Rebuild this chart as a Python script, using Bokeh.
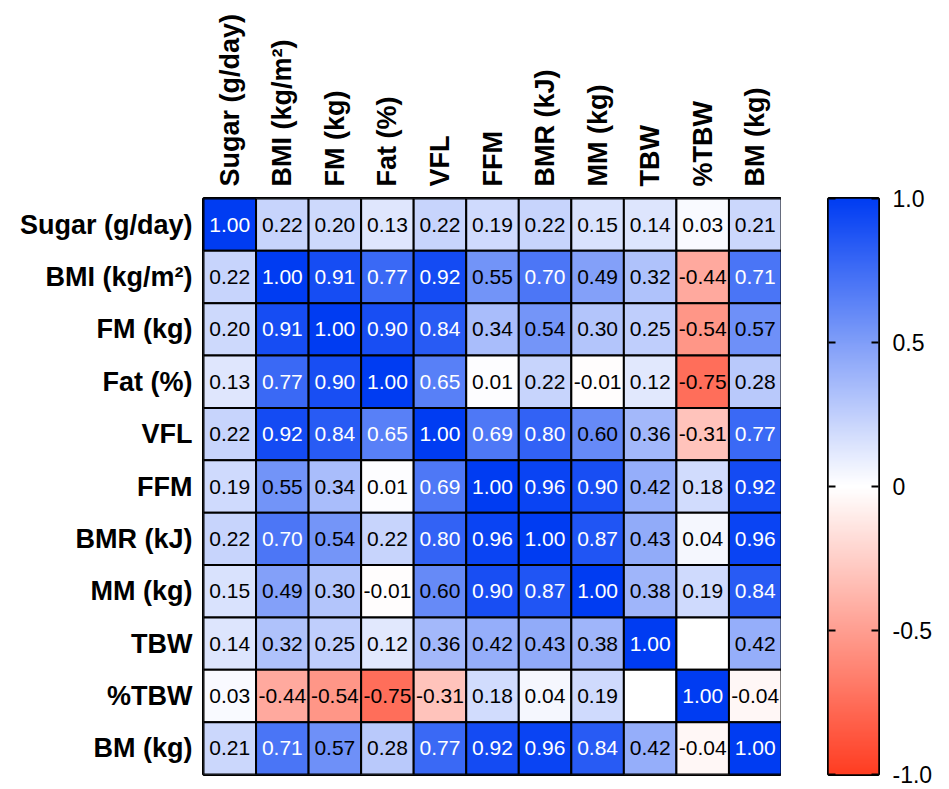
import numpy as np
from bokeh.plotting import figure
from bokeh.models import (ColumnDataSource, FactorRange, Range1d, LinearColorMapper,
                          FixedTicker, LinearAxis)
from bokeh.layouts import row
from bokeh.core.properties import value
from bokeh.embed import file_html
from bokeh.resources import INLINE

labels = ["Sugar (g/day)", "BMI (kg/m²)", "FM (kg)", "Fat (%)", "VFL", "FFM",
          "BMR (kJ)", "MM (kg)", "TBW", "%TBW", "BM (kg)"]

r_sugar = [1.00, 0.22, 0.20, 0.13, 0.22, 0.19, 0.22, 0.15, 0.14, 0.03, 0.21]
r_bmi   = [0.22, 1.00, 0.91, 0.77, 0.92, 0.55, 0.70, 0.49, 0.32, -0.44, 0.71]
r_fm    = [0.20, 0.91, 1.00, 0.90, 0.84, 0.34, 0.54, 0.30, 0.25, -0.54, 0.57]
r_fat   = [0.13, 0.77, 0.90, 1.00, 0.65, 0.01, 0.22, -0.01, 0.12, -0.75, 0.28]
r_vfl   = [0.22, 0.92, 0.84, 0.65, 1.00, 0.69, 0.80, 0.60, 0.36, -0.31, 0.77]
r_ffm   = [0.19, 0.55, 0.34, 0.01, 0.69, 1.00, 0.96, 0.90, 0.42, 0.18, 0.92]
r_bmr   = [0.22, 0.70, 0.54, 0.22, 0.80, 0.96, 1.00, 0.87, 0.43, 0.04, 0.96]
r_mm    = [0.15, 0.49, 0.30, -0.01, 0.60, 0.90, 0.87, 1.00, 0.38, 0.19, 0.84]
r_tbw   = [0.14, 0.32, 0.25, 0.12, 0.36, 0.42, 0.43, 0.38, 1.00, None, 0.42]
r_ptbw  = [0.03, -0.44, -0.54, -0.75, -0.31, 0.18, 0.04, 0.19, None, 1.00, -0.04]
r_bm    = [0.21, 0.71, 0.57, 0.28, 0.77, 0.92, 0.96, 0.84, 0.42, -0.04, 1.00]

matrix = [r_sugar, r_bmi, r_fm, r_fat, r_vfl, r_ffm, r_bmr, r_mm, r_tbw, r_ptbw, r_bm]

cbar_ticks = [-1.0, -0.5, 0.0, 0.5, 1.0]
cbar_tick_labels = {-1.0: "-1.0", -0.5: "-0.5", 0.0: "0", 0.5: "0.5", 1.0: "1.0"}

FONT = "Liberation Sans"

# palette red -> white -> blue
red = np.array([255, 61, 34])
white = np.array([255, 255, 255])
blue = np.array([0, 60, 242])
pal = []
n = 128
for i in range(n):
    t = i / (n - 1)
    c = red + (white - red) * t
    pal.append("#%02x%02x%02x" % tuple(int(round(v)) for v in c))
for i in range(n):
    t = i / (n - 1)
    c = white + (blue - white) * t
    pal.append("#%02x%02x%02x" % tuple(int(round(v)) for v in c))
mapper = LinearColorMapper(palette=pal, low=-1, high=1, nan_color="white")

xs, ys, vals, txt, tcol = [], [], [], [], []
for i, rlab in enumerate(labels):
    for j, clab in enumerate(labels):
        v = matrix[i][j]
        xs.append(clab)
        ys.append(rlab)
        vals.append(np.nan if v is None else v)
        txt.append("" if v is None else "%.2f" % v)
        tcol.append("white" if (v is not None and v > 0.6) else "black")

src = ColumnDataSource(dict(x=xs, y=ys, v=vals, t=txt, c=tcol))

TOP = 198
FH = 576
BOT = 14

p = figure(x_range=FactorRange(*labels), y_range=FactorRange(*reversed(labels)),
           x_axis_location="above", frame_width=578, frame_height=FH,
           min_border_left=203, min_border_top=TOP, min_border_right=0,
           min_border_bottom=BOT, toolbar_location=None, output_backend="svg",
           background_fill_color="white", border_fill_color="white")

p.rect(x="x", y="y", width=1, height=1, source=src,
       fill_color={"field": "v", "transform": mapper},
       line_color="black", line_width=2)
p.text(x="x", y="y", text="t", source=src, text_color="c",
       text_align="center", text_baseline="middle",
       text_font=value(FONT), text_font_size="21px")

p.grid.visible = False
p.outline_line_color = "black"
p.outline_line_width = 3
for ax in (p.xaxis, p.yaxis):
    ax.axis_line_color = None
    ax.major_tick_line_color = None
    ax.minor_tick_line_color = None
    ax.major_label_text_font = FONT
    ax.major_label_text_font_style = "bold"
    ax.major_label_text_font_size = "27px"
    ax.major_label_text_color = "black"
p.xaxis.major_label_orientation = "vertical"
p.xaxis.major_label_standoff = 6
p.yaxis.major_label_standoff = 5

# colorbar figure
cb = figure(x_range=Range1d(0, 1), y_range=Range1d(-1, 1),
            frame_width=50, frame_height=FH, min_border_left=47,
            min_border_right=60, min_border_top=TOP, min_border_bottom=BOT,
            toolbar_location=None, output_backend="svg",
            x_axis_location=None, y_axis_location="right",
            background_fill_color="white", border_fill_color="white")
grad = np.linspace(-1, 1, 256).reshape(256, 1)
cb.image(image=[grad], x=0, y=-1, dw=1, dh=2, color_mapper=mapper)
cb.grid.visible = False
cb.outline_line_color = "black"
cb.outline_line_width = 3
cb.yaxis.ticker = FixedTicker(ticks=cbar_ticks)
cb.yaxis.major_label_overrides = cbar_tick_labels
cb.yaxis.axis_line_color = None
cb.yaxis.major_tick_in = 7
cb.yaxis.major_tick_out = 0
cb.yaxis.major_tick_line_width = 2
cb.yaxis.major_tick_line_color = "black"
cb.yaxis.minor_tick_line_color = None
cb.yaxis.major_label_text_font = FONT
cb.yaxis.major_label_text_font_size = "23px"
cb.yaxis.major_label_text_color = "black"
cb.yaxis.major_label_standoff = 14
left_ax = LinearAxis(ticker=FixedTicker(ticks=cbar_ticks), axis_line_color=None,
                     major_tick_in=7, major_tick_out=0, major_tick_line_width=2,
                     major_tick_line_color="black", minor_tick_line_color=None,
                     major_label_text_font_size="0px", major_label_standoff=0)
left_ax.major_label_overrides = {t: "" for t in cbar_ticks}
cb.add_layout(left_ax, "left")

layout = row(p, cb)
open("out.html", "w").write(file_html(layout, INLINE))
